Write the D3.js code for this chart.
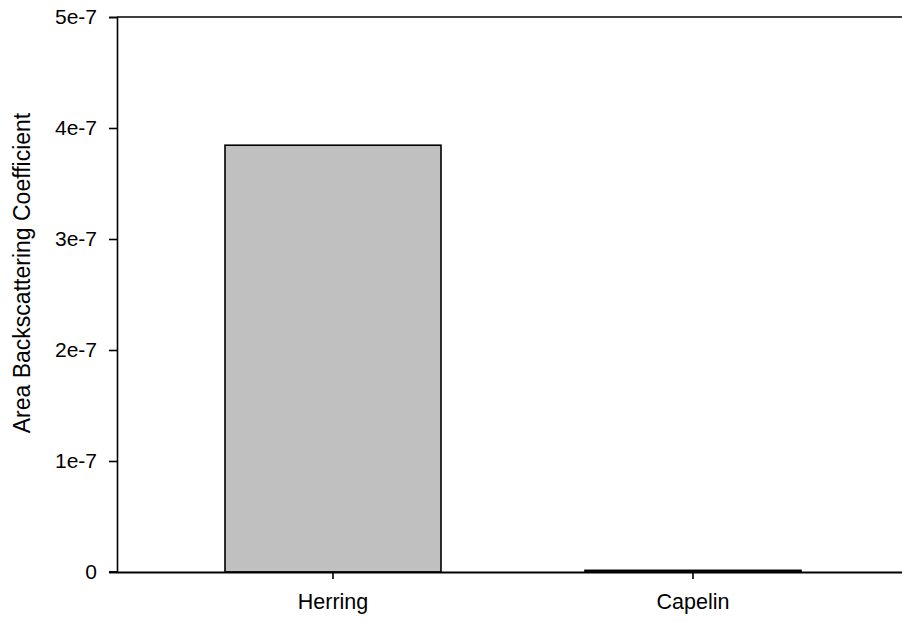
<!DOCTYPE html>
<html><head><meta charset="utf-8">
<script src="https://cdn.jsdelivr.net/npm/d3@7"></script>
<style>body{margin:0;background:#fff}svg{display:block}text{font-family:"Liberation Sans",Arial,sans-serif;fill:#000}</style>
</head><body>
<svg id="c" width="902" height="622"></svg>
<script>
const categories = ["Herring", "Capelin"];
const values = [3.845e-7, 1.5e-9];
const yTicks = [0, 1e-7, 2e-7, 3e-7, 4e-7, 5e-7];
const yTickLabels = ["0", "1e-7", "2e-7", "3e-7", "4e-7", "5e-7"];
const yTitle = "Area Backscattering Coefficient";

const svg = d3.select("#c");
const pL = 117, pR = 909, pT = 17, pB = 572;
const x = d3.scaleBand().domain(categories).range([pL, pR]).paddingInner(0.4).paddingOuter(0.3);
const y = d3.scaleLinear().domain([0, 5e-7]).range([pB, pT]);

// bars
svg.selectAll("rect.bar").data(categories).join("rect")
  .attr("class", "bar")
  .attr("x", d => x(d))
  .attr("width", x.bandwidth())
  .attr("y", (d, i) => y(values[i]))
  .attr("height", (d, i) => y(0) - y(values[i]))
  .attr("fill", "#c0c0c0").attr("stroke", "#000").attr("stroke-width", 1.6);

// top frame line
svg.append("line").attr("x1", pL).attr("x2", pR).attr("y1", pT).attr("y2", pT)
  .attr("stroke", "#000").attr("stroke-width", 1.6);

// y axis
const yAxis = d3.axisLeft(y).tickValues(yTicks).tickFormat((d, i) => yTickLabels[i]).tickSize(8).tickPadding(12);
const gy = svg.append("g").attr("transform", `translate(${pL},0)`).call(yAxis);
gy.select(".domain").attr("stroke-width", 1.6);
gy.selectAll(".tick line").attr("stroke-width", 1.6);
gy.selectAll("text").style("font-size", "21px").attr("font-family", null);

// x axis
const xAxis = d3.axisBottom(x).tickSize(7).tickPadding(15).tickSizeOuter(0);
const gx = svg.append("g").attr("transform", `translate(0,${pB})`).call(xAxis);
gx.select(".domain").attr("stroke-width", 1.9);
gx.selectAll(".tick line").attr("stroke-width", 1.6);
gx.selectAll("text").style("font-size", "21.5px").attr("font-family", null);
svg.append("line").attr("x1", pL - 8).attr("x2", pL).attr("y1", pB).attr("y2", pB)
  .attr("stroke", "#000").attr("stroke-width", 1.9);

// y title
svg.append("text").attr("transform", `translate(30,273) rotate(-90)`)
  .attr("text-anchor", "middle").style("font-size", "23px").text(yTitle);
</script>
</body></html>
